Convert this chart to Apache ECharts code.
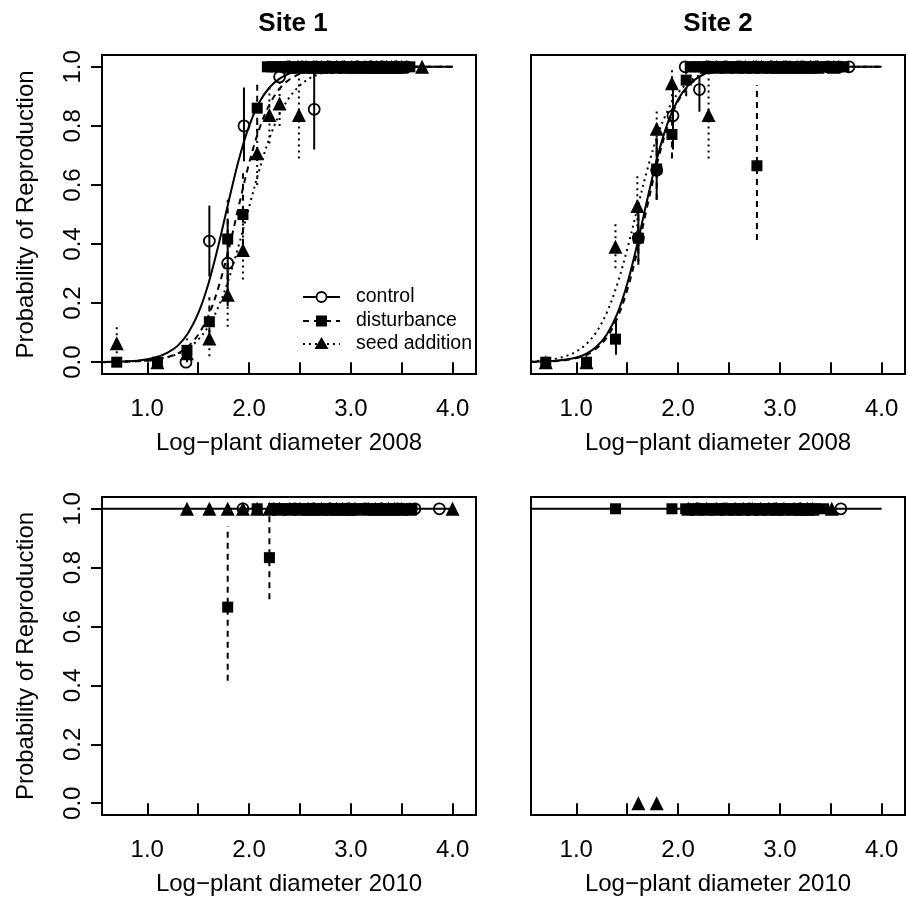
<!DOCTYPE html>
<html>
<head>
<meta charset="utf-8">
<script src="https://cdn.jsdelivr.net/npm/echarts@6/dist/echarts.min.js"></script>
<style>
html, body { margin: 0; padding: 0; background: #fff; }
#main { width: 908px; height: 901px; }
</style>
</head>
<body>
<div id="main"></div>
<script>
var FONT = '"Liberation Sans", Arial, sans-serif';

// axis ticks
var xTicks = [1.0, 1.5, 2.0, 2.5, 3.0, 3.5, 4.0];
var xLabels = [1.0, 2.0, 3.0, 4.0];
var yTicks = [0.0, 0.2, 0.4, 0.6, 0.8, 1.0];

// fitted curves
var curveX = [0.555, 0.7, 0.8, 0.9, 1.0, 1.1, 1.2, 1.3, 1.4, 1.5, 1.6, 1.7, 1.8, 1.9, 2.0, 2.1, 2.2, 2.3, 2.4, 2.5, 2.6, 2.7, 2.8, 3.0, 3.5, 4.0];
var fitControlS1 = [0.001, 0.002, 0.003, 0.005, 0.010, 0.018, 0.032, 0.056, 0.098, 0.165, 0.265, 0.397, 0.545, 0.686, 0.799, 0.879, 0.930, 0.960, 0.978, 0.988, 0.993, 0.996, 0.998, 0.999, 1.0, 1.0];
var fitDistS1 = [0.000, 0.001, 0.002, 0.003, 0.005, 0.009, 0.017, 0.030, 0.053, 0.093, 0.157, 0.254, 0.382, 0.530, 0.673, 0.789, 0.872, 0.926, 0.958, 0.976, 0.987, 0.993, 0.996, 0.999, 1.0, 1.0];
var fitSeedS1 = [0.001, 0.001, 0.002, 0.004, 0.006, 0.010, 0.017, 0.028, 0.047, 0.076, 0.121, 0.188, 0.281, 0.397, 0.525, 0.650, 0.758, 0.840, 0.898, 0.937, 0.962, 0.977, 0.986, 0.995, 1.0, 1.0];
var fitControlS2 = [0.001, 0.003, 0.005, 0.009, 0.016, 0.029, 0.053, 0.094, 0.162, 0.265, 0.401, 0.555, 0.698, 0.812, 0.889, 0.937, 0.965, 0.981, 0.990, 0.994, 0.997, 0.998, 0.999, 1.0, 1.0, 1.0];
var fitDistS2 = [0.001, 0.002, 0.004, 0.007, 0.014, 0.025, 0.047, 0.084, 0.147, 0.244, 0.377, 0.532, 0.681, 0.801, 0.883, 0.934, 0.964, 0.980, 0.989, 0.994, 0.997, 0.998, 0.999, 1.0, 1.0, 1.0];
var fitSeedS2 = [0.003, 0.007, 0.012, 0.021, 0.036, 0.062, 0.103, 0.168, 0.261, 0.382, 0.520, 0.655, 0.769, 0.853, 0.911, 0.947, 0.969, 0.982, 0.990, 0.994, 0.997, 0.998, 0.999, 1.0, 1.0, 1.0];
var curveX10 = [0.555, 4.0];
var fit10 = [1.0, 1.0];

// Site 1, 2008: binned proportions [x, y], bars [x, lo, hi], points sitting at 1.0
var controlS1 = [[1.38, 0.0], [1.61, 0.41], [1.79, 0.335], [1.95, 0.80], [2.30, 0.966], [2.64, 0.856]];
var controlS1Bars = [[1.61, 0.29, 0.53], [1.79, 0.19, 0.48], [1.95, 0.68, 0.93], [2.64, 0.72, 0.98]];
var controlS1One = [2.38, 2.52, 2.66, 2.79, 2.92, 3.06, 3.19, 3.31, 3.44, 3.55];
var distS1 = [[0.70, 0.0], [1.10, 0.0], [1.39, 0.04], [1.61, 0.137], [1.79, 0.417], [1.94, 0.50], [2.08, 0.86]];
var distS1Bars = [[1.39, 0.0, 0.08], [1.61, 0.06, 0.22], [1.79, 0.28, 0.55], [1.94, 0.36, 0.64], [2.08, 0.77, 0.95]];
var distS1One = [2.18, 2.22, 2.26, 2.31, 2.35, 2.39, 2.44, 2.48, 2.53, 2.57, 2.62, 2.66, 2.71, 2.75, 2.80, 2.84, 2.89, 2.93, 2.98, 3.02, 3.07, 3.11, 3.16, 3.20, 3.25, 3.30, 3.35, 3.40, 3.45, 3.50, 3.58];
var seedS1 = [[0.70, 0.064], [1.10, 0.0], [1.39, 0.03], [1.61, 0.08], [1.79, 0.228], [1.94, 0.38], [2.08, 0.707], [2.20, 0.837], [2.30, 0.876], [2.49, 0.837]];
var seedS1Bars = [[0.70, 0.01, 0.12], [1.61, 0.02, 0.14], [1.79, 0.12, 0.33], [1.94, 0.28, 0.47], [2.08, 0.60, 0.81], [2.20, 0.74, 0.94], [2.30, 0.80, 0.96], [2.49, 0.69, 0.98]];
var seedS1One = [2.40, 2.48, 2.56, 2.63, 2.71, 2.77, 2.86, 2.94, 3.01, 3.07, 3.14, 3.20, 3.25, 3.30, 3.35, 3.40, 3.45, 3.50, 3.70];

// Site 2, 2008
var controlS2 = [[1.61, 0.42], [1.79, 0.65], [1.95, 0.834], [2.21, 0.923]];
var controlS2Bars = [[1.39, 0.025, 0.137], [1.61, 0.34, 0.52], [1.79, 0.55, 0.76], [1.95, 0.72, 0.95], [2.21, 0.848, 0.966]];
var controlS2One = [2.07, 2.30, 2.46, 2.61, 2.77, 2.92, 3.06, 3.21, 3.35, 3.47, 3.58, 3.68];
var distS2 = [[0.70, 0.0], [1.10, 0.0], [1.385, 0.078], [1.61, 0.42], [1.79, 0.654], [1.94, 0.771], [2.08, 0.955], [2.775, 0.665]];
var distS2Bars = [[1.61, 0.33, 0.51], [1.79, 0.55, 0.76], [1.94, 0.69, 0.86], [2.08, 0.90, 1.0], [2.775, 0.414, 0.938]];
var distS2One = [2.12, 2.16, 2.21, 2.25, 2.30, 2.34, 2.39, 2.43, 2.48, 2.52, 2.57, 2.61, 2.66, 2.70, 2.75, 2.79, 2.84, 2.88, 2.93, 2.97, 3.02, 3.06, 3.11, 3.15, 3.20, 3.24, 3.29, 3.33, 3.38, 3.42, 3.47, 3.52, 3.58, 3.63];
var seedS2 = [[0.70, 0.0], [1.10, 0.0], [1.385, 0.391], [1.60, 0.529], [1.79, 0.79], [1.94, 0.944], [2.30, 0.837]];
var seedS2Bars = [[1.385, 0.318, 0.476], [1.60, 0.44, 0.63], [1.79, 0.72, 0.86], [1.94, 0.88, 1.0], [2.30, 0.69, 0.98]];
var seedS2One = [2.28, 2.38, 2.48, 2.58, 2.66, 2.74, 2.82, 2.91, 2.97, 3.04, 3.10, 3.17, 3.23, 3.30, 3.37, 3.53];

// Site 1, 2010
var controlS1b = [];
var controlS1bOne = [1.94, 2.24, 2.45, 2.63, 2.80, 2.97, 3.14, 3.30, 3.46, 3.63, 3.87];
var distS1b = [[1.79, 0.666], [2.20, 0.834]];
var distS1bBars = [[1.79, 0.416, 0.941], [2.20, 0.693, 0.986]];
var distS1bOne = [2.08, 2.24, 2.28, 2.33, 2.37, 2.42, 2.46, 2.51, 2.55, 2.60, 2.64, 2.69, 2.73, 2.78, 2.82, 2.87, 2.91, 2.96, 3.00, 3.05, 3.09, 3.14, 3.18, 3.23, 3.27, 3.32, 3.36, 3.41, 3.45, 3.50, 3.55, 3.60];
var seedS1b = [];
var seedS1bOne = [1.39, 1.61, 1.79, 1.94, 2.08, 2.20, 2.30, 2.40, 2.50, 2.58, 2.64, 2.71, 2.79, 2.86, 2.92, 2.99, 3.04, 3.17, 3.24, 3.30, 3.37, 3.43, 3.50, 3.58, 4.00];

// Site 2, 2010
var controlS2b = [];
var controlS2bOne = [2.20, 2.45, 2.70, 2.95, 3.20, 3.60];
var distS2b = [];
var distS2bOne = [1.385, 1.94, 2.075, 2.15, 2.19, 2.24, 2.28, 2.33, 2.37, 2.42, 2.46, 2.51, 2.55, 2.60, 2.64, 2.69, 2.73, 2.78, 2.82, 2.87, 2.91, 2.96, 3.00, 3.05, 3.09, 3.14, 3.18, 3.23, 3.27, 3.32, 3.35, 3.43];
var seedS2b = [[1.61, 0.0], [1.79, 0.0]];
var seedS2bOne = [2.10, 2.18, 2.28, 2.38, 2.48, 2.56, 2.64, 2.73, 2.81, 2.89, 2.97, 3.04, 3.14, 3.20, 3.27, 3.32, 3.51];

var DASH = [6, 5];
var DOT = [2, 4];

function withOnes(pts, ones) {
  return pts.concat(ones.map(function (x) { return [x, 1.0]; }));
}

function curve(name, xs, ys, gi, type) {
  return {
    type: 'line', name: name, xAxisIndex: gi, yAxisIndex: gi,
    data: xs.map(function (x, i) { return [x, ys[i]]; }),
    smooth: 0.35, symbol: 'none', silent: true, z: 2,
    lineStyle: { color: '#000', width: 2, type: type }
  };
}

function bars(data, gi, dash) {
  return {
    type: 'custom', xAxisIndex: gi, yAxisIndex: gi, data: data, silent: true, z: 3,
    encode: { x: 0, y: [1, 2] },
    renderItem: function (params, api) {
      var a = api.coord([api.value(0), api.value(1)]);
      var b = api.coord([api.value(0), api.value(2)]);
      return {
        type: 'line',
        shape: { x1: a[0], y1: a[1], x2: b[0], y2: b[1] },
        style: { stroke: '#000', lineWidth: 2, lineDash: dash }
      };
    }
  };
}

function points(name, data, gi, symbol, size) {
  var open = symbol === 'circle';
  return {
    type: 'scatter', name: name, xAxisIndex: gi, yAxisIndex: gi, data: data,
    symbol: symbol, symbolSize: size, silent: true, z: 4,
    itemStyle: open
      ? { color: 'rgba(0,0,0,0)', borderColor: '#000', borderWidth: 1.8, opacity: 1 }
      : { color: '#000', borderWidth: 0, opacity: 1 }
  };
}

function xAxis(gi, name) {
  return {
    type: 'value', gridIndex: gi, min: 0.555, max: 4.23,
    name: name, nameLocation: 'middle', nameGap: 57,
    nameTextStyle: { fontSize: 24, color: '#000', fontFamily: FONT },
    axisLine: { show: false }, splitLine: { show: false },
    axisTick: { show: true, length: 11, customValues: xTicks, lineStyle: { color: '#000', width: 2 } },
    axisLabel: { customValues: xLabels, fontSize: 24, color: '#000', fontFamily: FONT, margin: 23,
      formatter: function (v) { return v.toFixed(1); } }
  };
}

function yAxis(gi, labelled) {
  return {
    type: 'value', gridIndex: gi, min: -0.04, max: 1.04,
    name: labelled ? 'Probability of Reproduction' : '', nameLocation: 'middle', nameGap: 64,
    nameTextStyle: { fontSize: 24, color: '#000', fontFamily: FONT },
    axisLine: { show: false }, splitLine: { show: false },
    axisTick: { show: labelled, length: 11, customValues: yTicks, lineStyle: { color: '#000', width: 2 } },
    axisLabel: { show: labelled, customValues: yTicks, rotate: 90, fontSize: 24, color: '#000', fontFamily: FONT, margin: 17,
      formatter: function (v) { return v.toFixed(1); } }
  };
}

var grid = function (left, top, height) {
  return { left: left, top: top, width: 374, height: height, show: true,
    borderColor: '#000', borderWidth: 2, backgroundColor: 'transparent' };
};

var series = [
  // Site 1, 2008
  curve('control', curveX, fitControlS1, 0, 'solid'),
  curve('disturbance', curveX, fitDistS1, 0, DASH),
  curve('seed addition', curveX, fitSeedS1, 0, DOT),
  bars(controlS1Bars, 0, null), bars(distS1Bars, 0, DASH), bars(seedS1Bars, 0, DOT),
  points('control', withOnes(controlS1, controlS1One), 0, 'circle', 11),
  points('disturbance', withOnes(distS1, distS1One), 0, 'rect', 11),
  points('seed addition', withOnes(seedS1, seedS1One), 0, 'triangle', 14),
  // Site 2, 2008
  curve('control', curveX, fitControlS2, 1, 'solid'),
  curve('disturbance', curveX, fitDistS2, 1, DASH),
  curve('seed addition', curveX, fitSeedS2, 1, DOT),
  bars(controlS2Bars, 1, null), bars(distS2Bars, 1, DASH), bars(seedS2Bars, 1, DOT),
  points('control', withOnes(controlS2, controlS2One), 1, 'circle', 11),
  points('disturbance', withOnes(distS2, distS2One), 1, 'rect', 11),
  points('seed addition', withOnes(seedS2, seedS2One), 1, 'triangle', 14),
  // Site 1, 2010
  curve('control', curveX10, fit10, 2, 'solid'),
  bars(distS1bBars, 2, DASH),
  points('control', withOnes(controlS1b, controlS1bOne), 2, 'circle', 11),
  points('disturbance', withOnes(distS1b, distS1bOne), 2, 'rect', 11),
  points('seed addition', withOnes(seedS1b, seedS1bOne), 2, 'triangle', 14),
  // Site 2, 2010
  curve('control', curveX10, fit10, 3, 'solid'),
  points('control', withOnes(controlS2b, controlS2bOne), 3, 'circle', 11),
  points('disturbance', withOnes(distS2b, distS2bOne), 3, 'rect', 11),
  points('seed addition', withOnes(seedS2b, seedS2bOne), 3, 'triangle', 14)
];

// legend drawn like base R legend(bty = "n")
var legendRows = [
  { label: 'control', y: 297, dash: null },
  { label: 'disturbance', y: 321, dash: DASH },
  { label: 'seed addition', y: 344, dash: DOT }
];
var legendEls = [];
legendRows.forEach(function (r, i) {
  legendEls.push({ type: 'line', shape: { x1: 303, y1: r.y, x2: 340, y2: r.y },
    style: { stroke: '#000', lineWidth: 2, lineDash: r.dash } });
  if (i === 0) {
    legendEls.push({ type: 'circle', shape: { cx: 321.5, cy: r.y, r: 5 },
      style: { fill: '#fff', stroke: '#000', lineWidth: 1.8 } });
  } else if (i === 1) {
    legendEls.push({ type: 'rect', shape: { x: 316, y: r.y - 5.5, width: 11, height: 11 },
      style: { fill: '#000' } });
  } else {
    legendEls.push({ type: 'polygon', shape: { points: [[321.5, r.y - 7], [328.5, r.y + 5], [314.5, r.y + 5]] },
      style: { fill: '#000' } });
  }
  legendEls.push({ type: 'text', x: 356, y: r.y,
    style: { text: r.label, fontSize: 19.5, fontFamily: FONT, fill: '#000', verticalAlign: 'middle' } });
});

var chart = echarts.init(document.getElementById('main'), null, { renderer: 'canvas' });
chart.setOption({
  animation: false,
  backgroundColor: '#fff',
  title: [
    { text: 'Site 1', left: 288, top: 6, textAlign: 'center',
      textStyle: { fontSize: 26, fontWeight: 'bold', color: '#000', fontFamily: FONT } },
    { text: 'Site 2', left: 713, top: 6, textAlign: 'center',
      textStyle: { fontSize: 26, fontWeight: 'bold', color: '#000', fontFamily: FONT } }
  ],
  grid: [grid(102, 55, 319), grid(531, 55, 319), grid(102, 497, 318), grid(531, 497, 318)],
  xAxis: [xAxis(0, 'Log\u2212plant diameter 2008'), xAxis(1, 'Log\u2212plant diameter 2008'),
          xAxis(2, 'Log\u2212plant diameter 2010'), xAxis(3, 'Log\u2212plant diameter 2010')],
  yAxis: [yAxis(0, true), yAxis(1, false), yAxis(2, true), yAxis(3, false)],
  series: series,
  graphic: [{ type: 'group', children: legendEls, z: 10 }]
});
</script>
</body>
</html>
